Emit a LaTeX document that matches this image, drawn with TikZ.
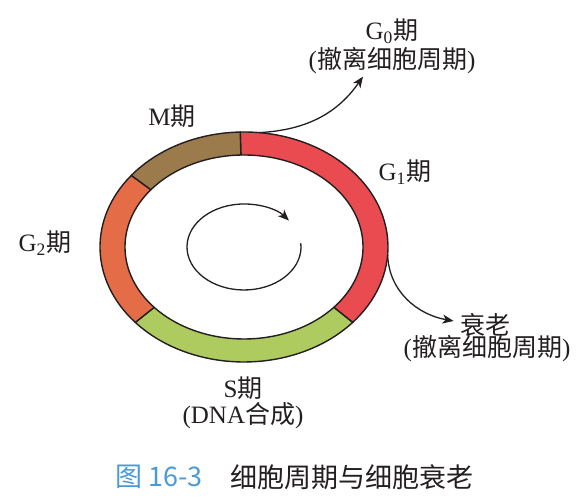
\documentclass[tikz,border=0pt]{standalone}
\usepackage{fontspec}
\setmainfont{Liberation Serif}
\newfontfamily\cjk{Noto Sans CJK SC}
\usetikzlibrary{arrows.meta}
\definecolor{ink}{HTML}{231F20}
\definecolor{gonered}{HTML}{E94B50}
\definecolor{mbrown}{HTML}{9B7A4B}
\definecolor{gtwoorange}{HTML}{E46C46}
\definecolor{sgreen}{HTML}{ADCB5E}
\definecolor{figblue}{HTML}{4A9AD8}
\newcommand{\zh}[1]{{\cjk #1}}
\newcommand{\phase}[3]{% from angle, to angle, colour
  \filldraw[fill=#3, draw=ink, line width=0.7pt, line join=round]
    (#1:144 and 115) arc[start angle=#1, end angle=#2, x radius=144, y radius=115]
    -- (#2:119 and 92) arc[start angle=#2, end angle=#1, x radius=119, y radius=92]
    -- cycle;%
}

\begin{document}
\begin{tikzpicture}[x=0.5pt, y=0.5pt,
    lbl/.style={text=ink, font=\fontsize{12.5}{15}\selectfont, inner sep=1pt},
    flow/.style={draw=ink, line width=0.65pt, -{Stealth[length=5.5pt, width=4.5pt, inset=1.5pt]}},
    caption/.style={anchor=west, inner sep=0pt, font=\cjk\fontsize{13.5}{16}\selectfont}]
  \useasboundingbox (0,0) rectangle (579,501);
  % Cell cycle ring
  \begin{scope}[shift={(244,254)}]
    \phase{91.5}{-41}{gonered}
    \phase{-41}{-139}{sgreen}
    \phase{-139}{-218.5}{gtwoorange}
    \phase{141.5}{91.5}{mbrown}
    \coordinate (g0src) at (84:144 and 115);
    \coordinate (sensrc) at (-4:144 and 115);
    % Direction of the cycle
    \draw[flow] (5:57 and 43) arc[start angle=5, end angle=-322, x radius=57, y radius=43];
  \end{scope}
  % Phase labels
  \node[lbl] (mlab) at (172,385) {M\zh{期}};
  \node[lbl] (g1lab) at (405,329) {G\textsubscript{1}\zh{期}};
  \node[lbl] (g2lab) at (45,258) {G\textsubscript{2}\zh{期}};
  \node[lbl] (slab) at (243,113) {S\zh{期}};
  \node[lbl] (swhy) at (243,85) {(DNA\zh{合成})};
  % Leaving the cycle
  \node[lbl] (g0lab) at (392,470) {G\textsubscript{0}\zh{期}};
  \node[lbl] (g0why) at (392,440) {(\zh{撤离细胞周期})};
  \node[lbl] (senlab) at (485,176) {\zh{衰老}};
  \node[lbl] (senwhy) at (487,152) {(\zh{撤离细胞周期})};
  \draw[flow] (g0src) to[out=3, in=235] ([xshift=-14.5pt]g0why.south);
  \draw[flow] (sensrc) to[out=-88, in=170] ([xshift=-2pt, yshift=2pt]senlab.west);
  % Caption
  \node[caption, text=figblue] (fignum) at (115,24) {图 16-3};
  \node[caption, text=ink] (figtitle) at (230,24) {细胞周期与细胞衰老};
\end{tikzpicture}
\end{document}
